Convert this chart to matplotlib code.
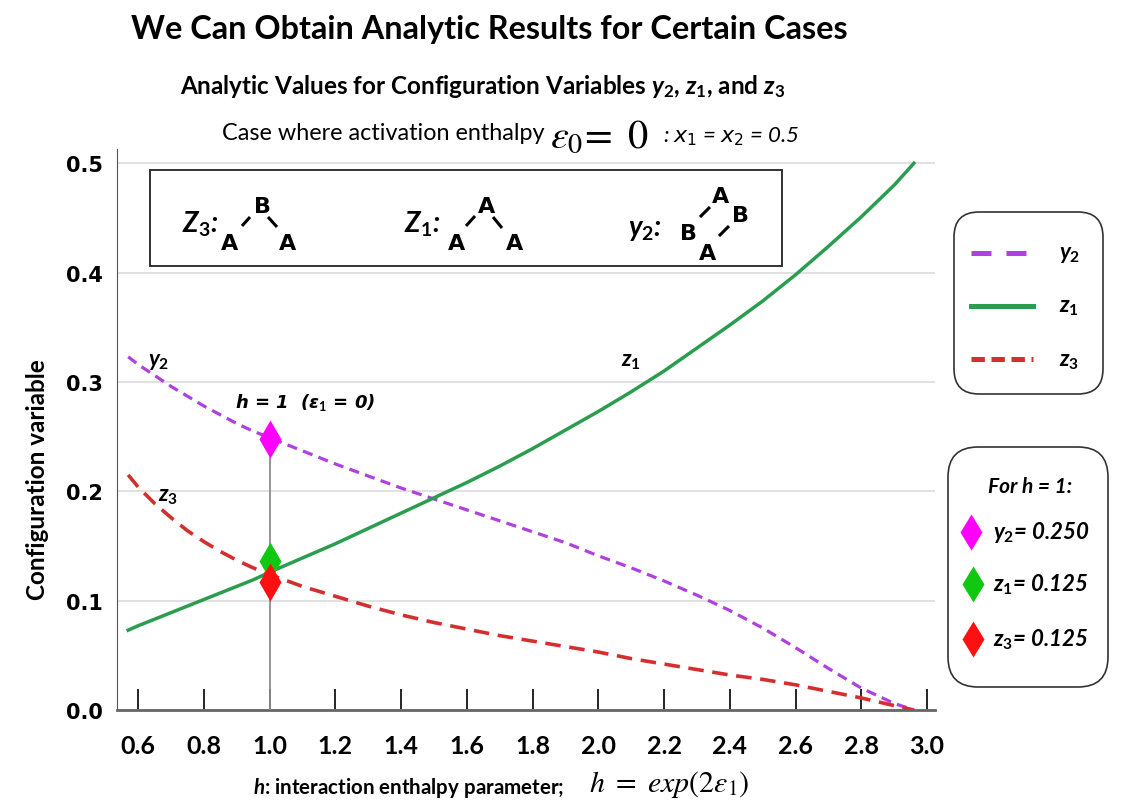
import matplotlib
matplotlib.use('Agg')
import matplotlib.pyplot as plt
from matplotlib.patches import FancyBboxPatch, Rectangle
from matplotlib.lines import Line2D

# values
h = [0.57, 0.6, 0.65, 0.7, 0.75, 0.8, 0.85, 0.9, 0.95, 1.0, 1.1, 1.2, 1.3, 1.4,
     1.5, 1.6, 1.7, 1.8, 1.9, 2.0, 2.1, 2.2, 2.3, 2.4, 2.5, 2.6, 2.7, 2.8,
     2.9, 2.96]
y2 = [0.323, 0.316, 0.306, 0.296, 0.287, 0.278, 0.270, 0.262, 0.255, 0.249,
      0.237, 0.225, 0.214, 0.203, 0.193, 0.183, 0.173, 0.163, 0.153, 0.141,
      0.130, 0.118, 0.105, 0.091, 0.075, 0.057, 0.038, 0.020, 0.006, 0.000]
z1 = [0.073, 0.077, 0.083, 0.089, 0.095, 0.101, 0.107, 0.113, 0.119, 0.126,
      0.139, 0.152, 0.166, 0.180, 0.194, 0.208, 0.223, 0.239, 0.256, 0.273,
      0.291, 0.310, 0.331, 0.352, 0.374, 0.398, 0.424, 0.451, 0.480, 0.500]
z3 = [0.215, 0.204, 0.189, 0.176, 0.164, 0.154, 0.145, 0.137, 0.130, 0.124,
      0.113, 0.104, 0.095, 0.087, 0.080, 0.074, 0.068, 0.063, 0.058, 0.053,
      0.047, 0.042, 0.037, 0.032, 0.028, 0.023, 0.017, 0.011, 0.004, 0.000]

# h = 1 markers (z1 / z3 drawn slightly apart, as in the original)
h_mark = 1.0
mark_y = [0.248, 0.136, 0.117]
mark_colors = ['#FF00FF', '#10C810', '#FF1010']
mark_text = [r'$\mathit{y_2}$= 0.250', r'$\mathit{z_1}$= 0.125', r'$\mathit{z_3}$= 0.125']

x_ticks = [0.6, 0.8, 1.0, 1.2, 1.4, 1.6, 1.8, 2.0, 2.2, 2.4, 2.6, 2.8, 3.0]
y_ticks = [0.0, 0.1, 0.2, 0.3, 0.4, 0.5]

c_y2 = '#B040E0'
c_z1 = '#2A9D4E'
c_z3 = '#D42F2F'

plt.rcParams['mathtext.fontset'] = 'custom'
plt.rcParams['mathtext.it'] = 'Lato:style=italic:weight=bold'
plt.rcParams['mathtext.rm'] = 'Lato:weight=bold'
plt.rcParams['mathtext.bf'] = 'Lato:weight=bold'

W, H = 1136, 804
fig = plt.figure(figsize=(W / 100, H / 100), dpi=100)
inch = fig.dpi_scale_trans


def P(x, y):
    # pixel position in the picture -> figure inches
    return x / 100, (H - y) / 100


def ftext(x, y, s, **kw):
    return fig.text(*P(x, y), s, transform=inch, **kw)


def fline(xs, ys, **kw):
    pts = [P(a, b) for a, b in zip(xs, ys)]
    ln = Line2D([p[0] for p in pts], [p[1] for p in pts], transform=inch, **kw)
    fig.add_artist(ln)
    return ln


# ---- axes ----
ax = fig.add_axes([117 / W, 1 - 711 / H, 818 / W, 561 / H])
ax.set_xlim(0.536, 3.024)
ax.set_ylim(0, 0.513)
ax.set_xticks(x_ticks)
ax.set_xticklabels([f'{t:.1f}' for t in x_ticks], fontfamily='Lato',
                   fontweight='bold', fontsize=18)
ax.set_yticks(y_ticks)
ax.set_yticklabels([f'{t:.1f}' for t in y_ticks], fontfamily='DejaVu Sans',
                   fontweight='bold', fontsize=15)
ax.tick_params(axis='x', direction='in', length=15, width=1.2, color='black', pad=17)
ax.tick_params(axis='y', length=0, pad=10)
ax.grid(axis='y', color='#dcdcdc', lw=1.2)
ax.set_axisbelow(True)
for s in ['top', 'right']:
    ax.spines[s].set_visible(False)
ax.spines['left'].set_color('#555555')
ax.spines['bottom'].set_color('#666666')
ax.spines['bottom'].set_linewidth(2)

ax.plot(h, y2, color=c_y2, lw=2.3, dashes=(3.2, 2.0))
ax.plot(h, z1, color=c_z1, lw=2.5)
ax.plot(h, z3, color=c_z3, lw=2.6, dashes=(4.3, 2.4))

ax.plot([h_mark, h_mark], [0, mark_y[0]], color='#8c8c8c', lw=1.3, zorder=3)
for v, c in zip(mark_y, mark_colors):
    ax.plot(h_mark, v, marker='d', ms=19, color=c, mec='none', zorder=4)

# labels inside the plot
ftext(148, 362, r'$\mathit{y_2}$', fontsize=16, va='center')
ftext(158, 497, r'$\mathit{z_3}$', fontsize=16, va='center')
ftext(621, 362, r'$\mathit{z_1}$', fontsize=16, va='center')
ftext(235, 403, r'h = 1  (ε$_1$ = 0)', fontfamily='DejaVu Sans', fontweight='bold',
      fontstyle='oblique', fontsize=13, va='center')

# cluster sketch box
fig.add_artist(Rectangle(P(150, 267), 6.32, 0.96, transform=inch, fill=True,
                         facecolor='white', edgecolor='#222222', lw=1.3))
atom = dict(fontfamily='DejaVu Sans', fontweight='bold', fontsize=16,
            ha='center', va='center')
bond = dict(color='black', lw=2.2, solid_capstyle='butt')
tag = dict(fontsize=20, va='center', fontfamily='Lato', fontweight='bold',
           fontstyle='italic')

ftext(182, 224, r'$\mathit{Z_3}$:', **tag)
ftext(230, 244, 'A', **atom)
ftext(262, 207, 'B', **atom)
ftext(288, 244, 'A', **atom)
fline([242, 250], [227, 218], **bond)
fline([268, 277], [218, 228], **bond)

ftext(404, 224, r'$\mathit{Z_1}$:', **tag)
ftext(457, 244, 'A', **atom)
ftext(487, 207, 'A', **atom)
ftext(515, 244, 'A', **atom)
fline([466, 475], [227, 217], **bond)
fline([493, 502], [218, 229], **bond)

ftext(628, 230, r'$\mathit{y_2}$:', **tag)
ftext(688, 234, 'B', **atom)
ftext(721, 197, 'A', **atom)
ftext(740, 216, 'B', **atom)
ftext(708, 254, 'A', **atom)
fline([700, 710], [218, 208], **bond)
fline([719, 729], [237, 227], **bond)

# ---- titles ----
ftext(489, 30, 'We Can Obtain Analytic Results for Certain Cases', fontfamily='Lato',
      fontweight='bold', fontsize=23.3, ha='center', va='center')
ftext(483, 87, r'Analytic Values for Configuration Variables $\mathit{y_2}$, '
      r'$\mathit{z_1}$, and $\mathit{z_3}$', fontfamily='Lato', fontweight='bold',
      fontsize=17.5, ha='center', va='center')
ftext(222, 134, 'Case where activation enthalpy', fontfamily='Lato', fontsize=16.8,
      va='center')
ftext(550, 137, r'$\varepsilon_0\!=\ 0$', math_fontfamily='stix', fontsize=29,
      va='center')
ftext(663, 137, ': $x_1$ = $x_2$ = 0.5', fontfamily='Lato', fontstyle='italic',
      math_fontfamily='dejavusans', fontsize=16, va='center')

# axis labels
ftext(38, 480, 'Configuration variable', fontfamily='Lato', fontweight='bold',
      fontsize=17.5, rotation=90, ha='center', va='center')
ftext(253, 788, r'$\mathit{h}$: interaction enthalpy parameter;', fontfamily='Lato',
      fontweight='bold', fontsize=14.8, va='center')
ftext(589, 785, r'$h\ =\ exp(2\varepsilon_1)$', math_fontfamily='stix', fontsize=21.5,
      va='center')

# ---- legend boxes on the right ----
fig.add_artist(FancyBboxPatch(P(954, 395), 1.49, 1.82, transform=inch,
                              boxstyle='round,pad=0,rounding_size=0.25',
                              facecolor='white', edgecolor='#333333', lw=1.2))
fig.add_artist(FancyBboxPatch(P(948, 688), 1.60, 2.40, transform=inch,
                              boxstyle='round,pad=0,rounding_size=0.3',
                              facecolor='white', edgecolor='#333333', lw=1.2))

fline([971, 1027], [254, 254], color=c_y2, lw=3.6, dashes=(4, 3))
fline([971, 1033], [307, 307], color=c_z1, lw=3.6)
fline([971, 1033], [360, 360], color=c_z3, lw=3.6, dashes=(2.67, 1.33))
lab = dict(fontsize=16, va='center')
ftext(1059, 255, r'$\mathit{y_2}$', **lab)
ftext(1059, 308, r'$\mathit{z_1}$', **lab)
ftext(1059, 362, r'$\mathit{z_3}$', **lab)

ftext(1030, 487, 'For h = 1:', fontfamily='Lato', fontweight='bold', fontstyle='italic',
      fontsize=15, ha='center', va='center')
for yy, xx, c, s in zip([533, 585, 640], [971, 973, 973], mark_colors, mark_text):
    fline([xx], [yy], marker='d', ms=18, color=c, mec='none', lw=0)
    ftext(993, yy, s, fontfamily='Lato', fontweight='bold', fontstyle='italic',
          fontsize=16, va='center')

fig.savefig('out.png', dpi=100, facecolor='white')
